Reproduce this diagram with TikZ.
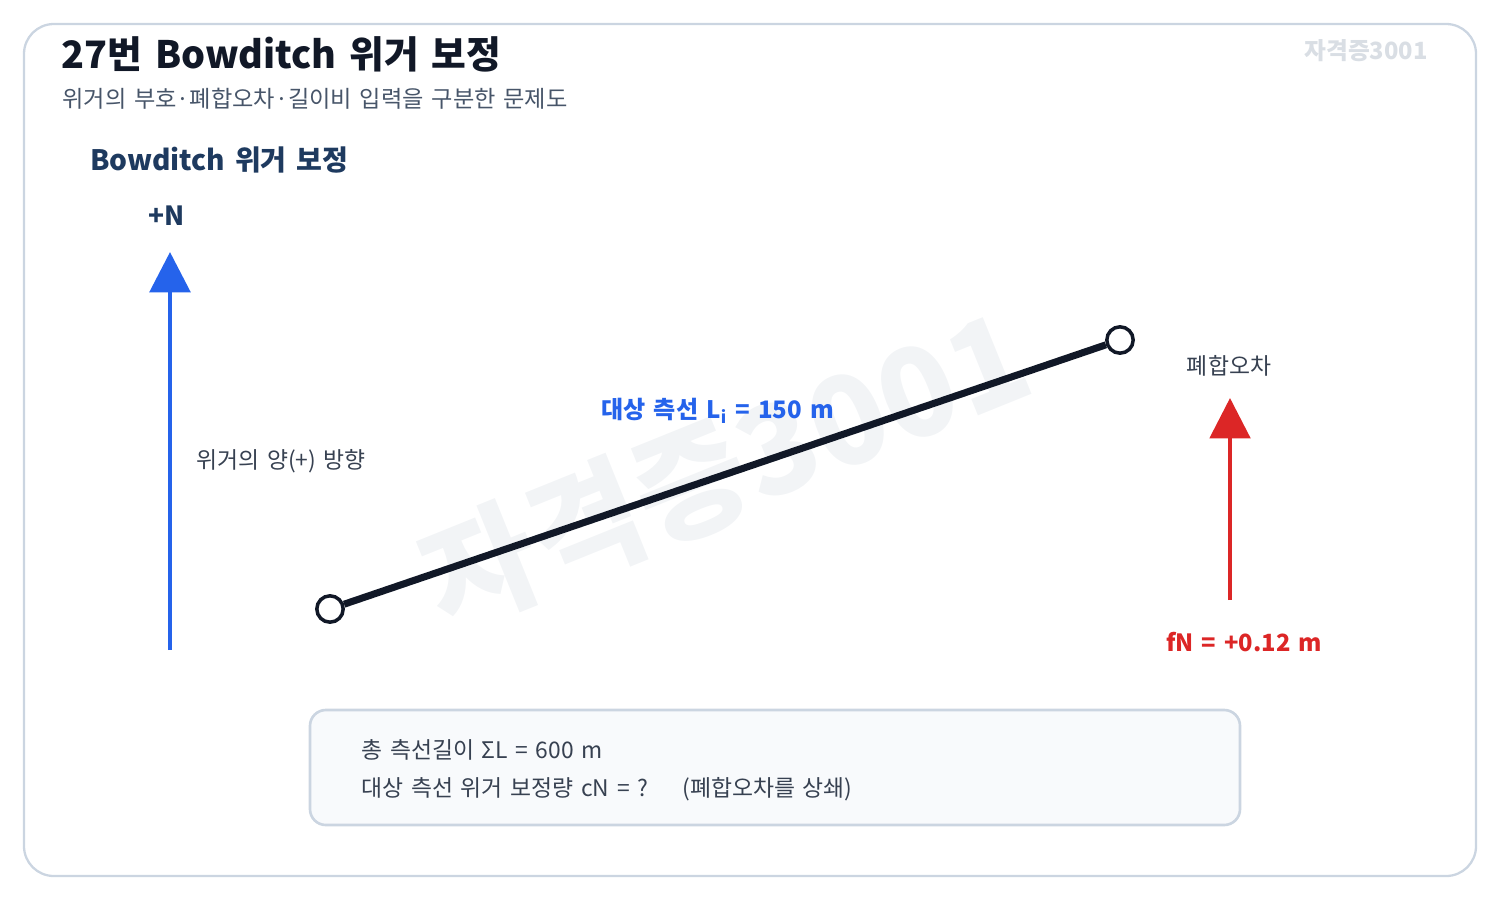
\documentclass[tikz,border=0pt]{standalone}
\usepackage{fontspec}
\setmainfont[WordSpace=1.5]{Noto Sans CJK KR}
\usepackage{xcolor}
\usetikzlibrary{arrows.meta}

\definecolor{framegray}{HTML}{CBD5E1}
\definecolor{titleink}{HTML}{111827}
\definecolor{subink}{HTML}{475569}
\definecolor{navy}{HTML}{1E3A5F}
\definecolor{axisblue}{HTML}{2563EB}
\definecolor{errred}{HTML}{DC2626}
\definecolor{noteink}{HTML}{374151}
\definecolor{boxfill}{HTML}{F8FAFC}
\definecolor{markgray}{HTML}{F2F4F6}

\begin{document}
\begin{tikzpicture}[x=0.02cm,y=-0.02cm,
  label/.style={inner sep=0pt,anchor=west},
  station/.style={circle,draw=titleink,fill=white,line width=2pt,minimum size=15pt,inner sep=0pt},
  vecarrow/.style={line width=2.8pt,-{Triangle[width=23pt,length=23pt]}}]
\useasboundingbox (0,0) rectangle (1500,900);
% frame
\draw[framegray,line width=1.3pt,rounded corners=17pt] (24,24) rectangle (1476,876);
% watermark
\node[markgray,rotate=22,font=\bfseries\fontsize{70}{70}\selectfont] (wm) at (725,468) {자격증3001};
\node[anchor=east,inner sep=0pt,framegray!85!gray!60,font=\bfseries\fontsize{13.5}{14}\selectfont] (tag) at (1428,51) {자격증3001};
% titles
\node[label,titleink,font=\bfseries\fontsize{21.5}{24}\selectfont] (title) at (61,54) {27번 Bowditch 위거 보정};
\node[label,subink,font=\fontsize{13.2}{15}\selectfont] (subtitle) at (62,99) {위거의 부호·폐합오차·길이비 입력을 구분한 문제도};
\node[label,navy,font=\bfseries\fontsize{16}{18}\selectfont] (head) at (90,160) {Bowditch 위거 보정};
% north axis
\coordinate (nbase) at (170,650);
\coordinate (ntip) at (170,252);
\draw[vecarrow,axisblue] (nbase) -- (ntip);
\node[navy,font=\bfseries\fontsize{15}{16}\selectfont] (plusN) at (167,216) {+N};
\node[label,noteink,font=\fontsize{13}{15}\selectfont] (posdir) at (196,461) {위거의 양(+) 방향};
% survey line
\node[station] (p1) at (330,609) {};
\node[station] (p2) at (1120,340) {};
\draw[titleink,line width=4pt] (p1) -- (p2);
\node[label,axisblue,font=\bfseries\fontsize{13.7}{15}\selectfont] (line) at (601,411) {대상 측선 L\textsubscript{i} = 150 m};
% closure error
\coordinate (ebase) at (1230,600);
\coordinate (etip) at (1230,398);
\draw[vecarrow,errred,line width=2.3pt] (ebase) -- (etip);
\node[noteink,font=\fontsize{13}{15}\selectfont] (errlab) at (1229,366) {폐합오차};
\node[errred,font=\bfseries\fontsize{13.5}{15}\selectfont] (fN) at (1244,642) {fN = +0.12 m};
% question box
\draw[framegray,fill=boxfill,line width=1.5pt,rounded corners=9pt] (310,710) rectangle (1240,825);
\node[label,noteink,font=\fontsize{13}{15}\selectfont] (total) at (361,750) {총 측선길이 ΣL = 600 m};
\node[label,noteink,font=\fontsize{13}{15}\selectfont] (ask) at (361,789) {대상 측선 위거 보정량 cN = ?\quad\enspace(폐합오차를 상쇄)};
\end{tikzpicture}
\end{document}
